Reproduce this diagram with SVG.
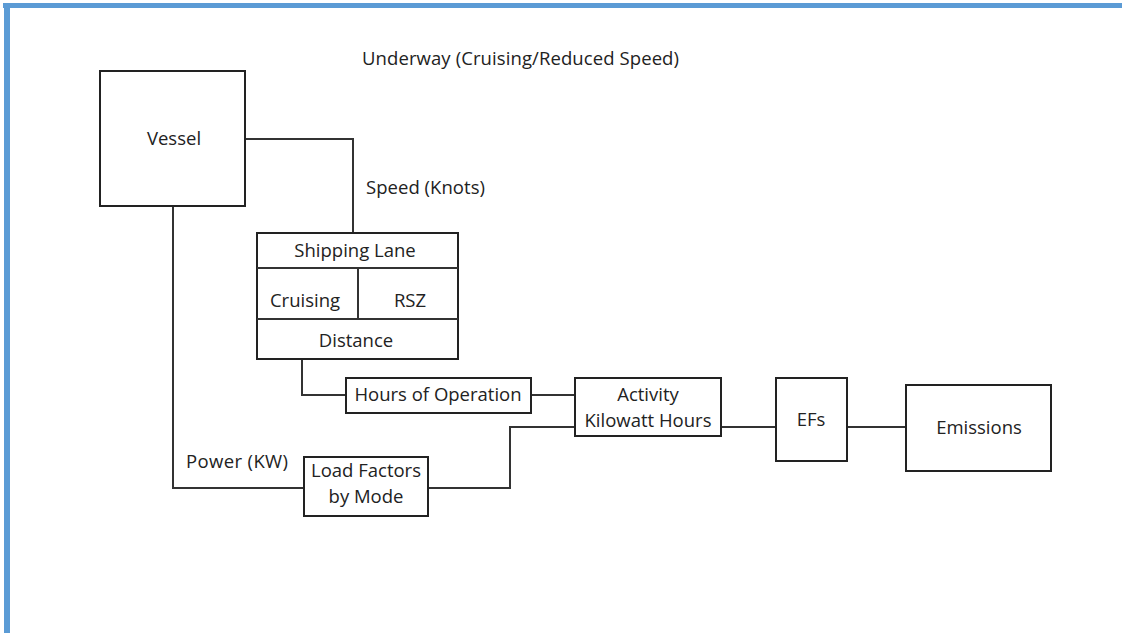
<svg xmlns="http://www.w3.org/2000/svg" width="1122" height="633" viewBox="0 0 1122 633">
<style>
.box{fill:#fff;stroke:#222;stroke-width:2}
.ln{fill:none;stroke:#333;stroke-width:2}
text{font-family:"Open Sans","Liberation Sans",sans-serif;font-size:18.5px;fill:#222}
.c{text-anchor:middle}
</style>
<rect x="0" y="0" width="1122" height="633" fill="#fff"/>
<rect x="3" y="3" width="1119" height="5" fill="#5b9bd5"/>
<rect x="4" y="3" width="6" height="630" fill="#5b9bd5"/>
<g id="connectors">
<polyline class="ln" points="245,139 353,139 353,233"/>
<polyline class="ln" points="173,206 173,488 304,488"/>
<polyline class="ln" points="302,359 302,395 346,395"/>
<line class="ln" x1="531" y1="395" x2="575" y2="395"/>
<polyline class="ln" points="428,488 510,488 510,427 575,427"/>
<line class="ln" x1="721" y1="427" x2="776" y2="427"/>
<line class="ln" x1="847" y1="427" x2="906" y2="427"/>
</g>
<text x="362" y="65" textLength="317">Underway (Cruising/Reduced Speed)</text>
<text x="366" y="194" textLength="119">Speed (Knots)</text>
<text x="186" y="468" textLength="102">Power (KW)</text>
<g id="vessel">
<rect class="box" x="100" y="71" width="145" height="135"/>
<text class="c" x="174" y="145">Vessel</text>
</g>
<g id="shipping-lane">
<rect class="box" x="257" y="233" width="201" height="126"/>
<line class="ln" x1="257" y1="268" x2="458" y2="268"/>
<line class="ln" x1="257" y1="319" x2="458" y2="319"/>
<line class="ln" x1="358" y1="268" x2="358" y2="319"/>
<text class="c" x="355" y="257">Shipping Lane</text>
<text class="c" x="305" y="307">Cruising</text>
<text class="c" x="410" y="307">RSZ</text>
<text class="c" x="356" y="347">Distance</text>
</g>
<g id="hours">
<rect class="box" x="346" y="378" width="185" height="35"/>
<text class="c" x="438" y="401">Hours of Operation</text>
</g>
<g id="activity">
<rect class="box" x="575" y="378" width="146" height="58"/>
<text class="c" x="648" y="401">Activity</text>
<text class="c" x="648" y="427">Kilowatt Hours</text>
</g>
<g id="efs">
<rect class="box" x="776" y="378" width="71" height="83"/>
<text class="c" x="811" y="426">EFs</text>
</g>
<g id="emissions">
<rect class="box" x="906" y="385" width="145" height="86"/>
<text class="c" x="979" y="434">Emissions</text>
</g>
<g id="load-factors">
<rect class="box" x="304" y="457" width="124" height="59"/>
<text class="c" x="366" y="477">Load Factors</text>
<text class="c" x="366" y="503">by Mode</text>
</g>
</svg>
